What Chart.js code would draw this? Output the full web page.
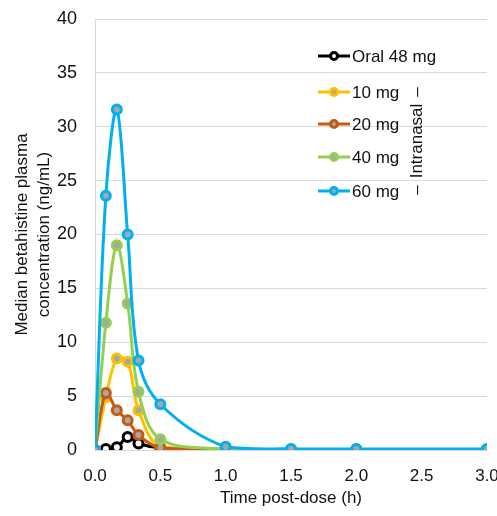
<!DOCTYPE html>
<html lang="en">
<head>
<meta charset="UTF-8">
<title>Betahistine plasma concentration</title>
<script src="https://cdn.jsdelivr.net/npm/chart.js"></script>
<style>
    body { margin: 0; background: #fff; }
    .wrap { width: 497px; height: 516px; position: relative; }
</style>
</head>
<body>
<div class="wrap"><canvas id="pk"></canvas></div>
<script>
// time points (h)
const times = [0, 0.083, 0.167, 0.25, 0.333, 0.5, 1.0, 1.5, 2.0, 3.0];

// median concentrations (ng/mL)
const oral48 = [0, 0.1, 0.25, 1.2, 0.6, 0.2, 0.05, 0.05, 0.05, 0.05];
const in10 = [0, 4.9, 8.5, 8.2, 3.7, 0.3, 0.05, 0.05, 0.05, 0.05];
const in20 = [0, 5.3, 3.7, 2.75, 1.4, 0.2, 0.05, 0.05, 0.05, 0.05];
const in40 = [0, 11.8, 19.0, 13.6, 5.4, 1.0, 0.1, 0.05, 0.05, 0.05];
const in60 = [0, 23.6, 31.6, 20.0, 8.3, 4.25, 0.3, 0.1, 0.1, 0.1];

const seriesNames = ['Oral 48 mg', '10 mg', '20 mg', '40 mg', '60 mg'];
const seriesColors = ['#000000', '#FFC000', '#C55A11', '#92D050', '#00B0F0'];
const seriesFill = ['#ffffff', '#a6a6a6', '#a6a6a6', '#a6a6a6', '#a6a6a6'];
const seriesValues = [oral48, in10, in20, in40, in60];

const xTicks = [0, 0.5, 1.0, 1.5, 2.0, 2.5, 3.0];
const yTicks = [0, 5, 10, 15, 20, 25, 30, 35, 40];

const FONT = '"Liberation Sans", Arial, sans-serif';

const datasets = seriesNames.map((name, i) => ({
    label: name,
    data: times.map((t, j) => ({ x: t, y: seriesValues[i][j] })),
    borderColor: seriesColors[i],
    backgroundColor: seriesFill[i],
    pointBorderColor: seriesColors[i],
    pointBackgroundColor: seriesFill[i],
    borderWidth: 3,
    pointRadius: 4.5,
    pointBorderWidth: 3,
    tension: 0.35,
    order: 5 - i
}));

// legend drawn inside the plot, with the rotated "Intranasal" label
const insideLegend = {
    id: 'insideLegend',
    afterDraw(chart) {
        const ctx = chart.ctx;
        const rows = [56, 92, 124, 157, 191];
        ctx.save();
        ctx.font = '17px ' + FONT;
        ctx.textBaseline = 'middle';
        seriesNames.forEach((name, i) => {
            const y = rows[i];
            ctx.strokeStyle = seriesColors[i];
            ctx.lineWidth = 3;
            ctx.beginPath();
            ctx.moveTo(318, y);
            ctx.lineTo(350, y);
            ctx.stroke();
            ctx.beginPath();
            ctx.arc(334, y, 3.5, 0, Math.PI * 2);
            ctx.fillStyle = seriesFill[i];
            ctx.fill();
            ctx.stroke();
            ctx.fillStyle = '#111';
            ctx.textAlign = 'left';
            ctx.fillText(name, 352, y + 1);
        });
        ctx.translate(417, 141);
        ctx.rotate(-Math.PI / 2);
        ctx.textAlign = 'center';
        ctx.fillText('Intranasal', 0, 0);
        ctx.fillText('–', 49, 0);
        ctx.fillText('–', -49, 0);
        ctx.restore();
    }
};

new Chart(document.getElementById('pk'), {
    type: 'line',
    data: { datasets },
    options: {
        responsive: true,
        maintainAspectRatio: false,
        animation: false,
        layout: { padding: { top: 19, right: 0, left: 0, bottom: 0 } },
        plugins: {
            legend: { display: false },
            tooltip: { enabled: false }
        },
        scales: {
            x: {
                type: 'linear',
                min: 0,
                max: 3,
                afterBuildTicks: axis => { axis.ticks = xTicks.map(v => ({ value: v })); },
                afterFit: axis => { axis.height = 66; axis.paddingRight = 10; },
                ticks: {
                    color: '#111',
                    font: { family: FONT, size: 17 },
                    callback: v => Number(v).toFixed(1),
                    maxRotation: 0,
                    padding: 16
                },
                grid: { display: false, drawTicks: false },
                border: { color: '#d9d9d9', width: 1 },
                title: {
                    display: true,
                    text: 'Time post-dose (h)',
                    color: '#111',
                    font: { family: FONT, size: 17, lineHeight: 1.2 },
                    padding: { top: 0, bottom: 7 }
                }
            },
            y: {
                min: 0,
                max: 40,
                afterBuildTicks: axis => { axis.ticks = yTicks.map(v => ({ value: v })); },
                afterFit: axis => { axis.width = 95; axis.paddingTop = 0; axis.paddingBottom = 0; },
                ticks: {
                    color: '#111',
                    font: { family: FONT, size: 18 },
                    padding: 18
                },
                grid: { color: '#d9d9d9', drawTicks: false },
                border: { color: '#d9d9d9', width: 1 },
                title: {
                    display: true,
                    text: ['Median betahistine plasma', 'concentration (ng/mL)'],
                    color: '#111',
                    font: { family: FONT, size: 17, lineHeight: 1.3 },
                    padding: { top: 11, bottom: 0 }
                }
            }
        }
    },
    plugins: [insideLegend]
});
</script>
</body>
</html>
